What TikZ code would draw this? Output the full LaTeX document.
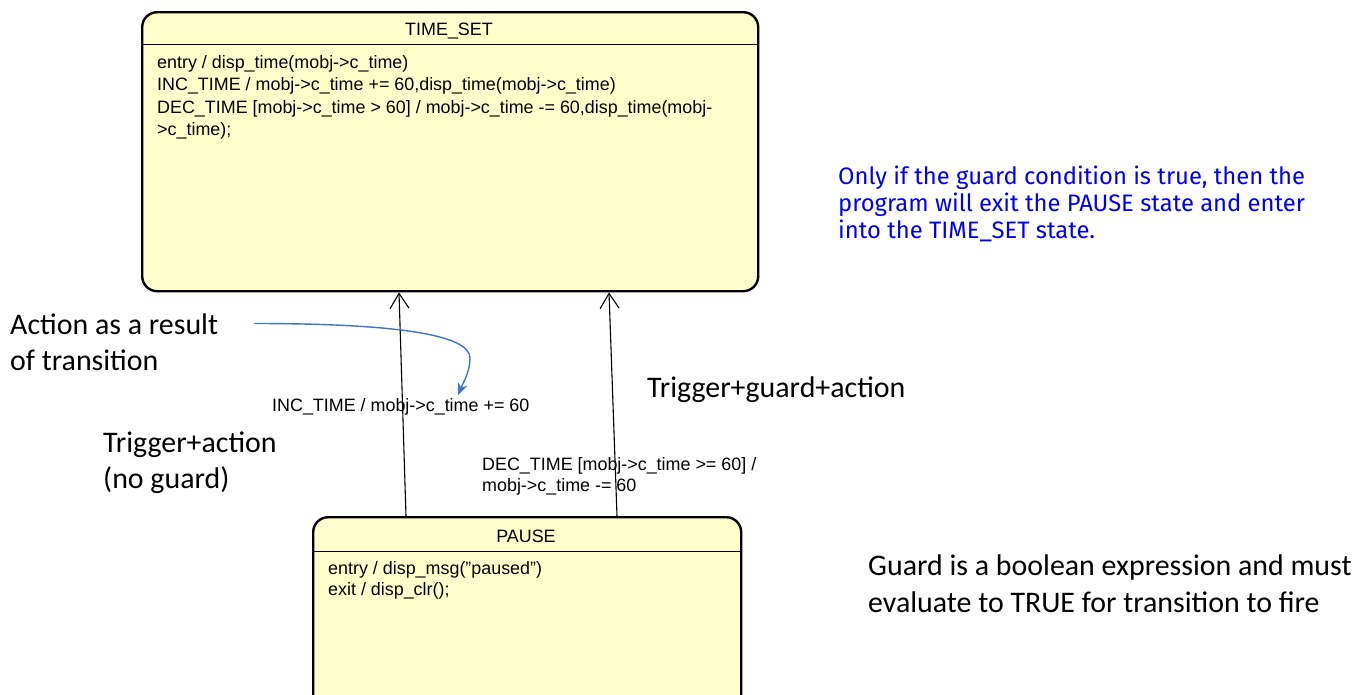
\documentclass[tikz,border=0pt]{standalone}
\usepackage{fontspec}
\setmainfont{Liberation Sans}
\newfontfamily\calfont{Carlito}
\newfontfamily\bluefont{Fira Sans}
\usetikzlibrary{arrows.meta}
\definecolor{statefill}{HTML}{FFFFCC}
\definecolor{noteblue}{HTML}{0000F0}
\definecolor{curveblue}{HTML}{4472C4}
\tikzset{
  statebox/.style={draw=black, line width=2.4pt, fill=statefill, rounded corners=15pt, inner sep=0pt},
  divider/.style={draw=black, line width=1.1pt},
  diag/.style={font=\fontsize{17.9}{20}\selectfont, anchor=base west, inner sep=0pt},
  stitle/.style={font=\fontsize{17.9}{20}\selectfont, anchor=base, inner sep=0pt},
  note/.style={font=\calfont\fontsize{29.9}{36}\selectfont, anchor=base west, inner sep=0pt},
  bluenote/.style={font=\bluefont\fontsize{23.8}{28}\selectfont, text=noteblue, anchor=base west, inner sep=0pt},
  trans/.style={draw=black, line width=1.1pt, -{Straight Barb[length=15pt,width=19pt,line width=1.1pt]}},
  pointer/.style={draw=curveblue, line width=1.4pt, -{Stealth[length=12pt,width=10pt]}},
}
\begin{document}
\begin{tikzpicture}[x=1pt,y=-1pt]
\useasboundingbox (0,0) rectangle (1365,694);
\clip (0,0) rectangle (1365,694);
% TIME_SET state
\node[statebox, minimum width=616pt, minimum height=279pt, anchor=north west] (ts) at (141,11) {};
\draw[divider] ([yshift=-33.5pt]ts.north west) -- ([yshift=-33.5pt]ts.north east);
\node[stitle] (tstitle) at (449,35.5) {TIME\_SET};
\node[diag] (ts1) at (157,68) {entry / disp\_time(mobj->c\_time)};
\node[diag] (ts2) at (157,90.5) {INC\_TIME / mobj->c\_time += 60,disp\_time(mobj->c\_time)};
\node[diag] (ts3) at (157,113) {DEC\_TIME [mobj->c\_time > 60] / mobj->c\_time -= 60,disp\_time(mobj-};
\node[diag] (ts4) at (157,135.5) {>c\_time);};
% PAUSE state
\node[statebox, minimum width=428pt, minimum height=260pt, anchor=north west] (p) at (312,516) {};
\draw[divider] ([yshift=-35.5pt]p.north west) -- ([yshift=-35.5pt]p.north east);
\node[stitle] (ptitle) at (526,542.5) {PAUSE};
\node[diag] (p1) at (328,574) {entry / disp\_msg(\symbol{34}paused\symbol{34})};
\node[diag] (p2) at (328,595) {exit / disp\_clr();};
% transitions
\draw[trans] ([xshift=94pt]p.north west) -- ([xshift=258pt]ts.south west);
\draw[trans] ([xshift=305pt]p.north west) -- ([xshift=468pt]ts.south west);
\node[diag] (l1) at (272,411.5) {INC\_TIME / mobj->c\_time += 60};
\node[diag] (l2a) at (482,470) {DEC\_TIME [mobj->c\_time >= 60] /};
\node[diag] (l2b) at (482,491.5) {mobj->c\_time -= 60};
% annotations
\node[note] (a1) at (10,334.5) {Action as a result};
\node[note] (a2) at (10,370) {of transition};
\node[note] (b1) at (103,452) {Trigger+action};
\node[note] (b2) at (103,488) {(no guard)};
\node[note] (c1) at (647,397) {Trigger+guard+action};
\node[note] (d1) at (868,575) {Guard is a boolean expression and must};
\node[note] (d2) at (868,612) {evaluate to TRUE for transition to fire};
\node[bluenote] (e1) at (838,184.3) {Only if the guard condition is true, then the};
\node[bluenote] (e2) at (838,211.7) {program will exit the PAUSE state and enter};
\node[bluenote] (e3) at (838,238.3) {into the TIME\_SET state.};
% pointer curve
\coordinate (cs) at ([xshift=36pt,yshift=11pt]a1.base east);
\coordinate (ce) at ([xshift=186pt,yshift=16.5pt]l1.base west);
\draw[pointer] (cs) .. controls +(150,0) and +(0,-22) .. (470,358) .. controls +(0,14) and +(5,-12) .. (ce);
\end{tikzpicture}
\end{document}
